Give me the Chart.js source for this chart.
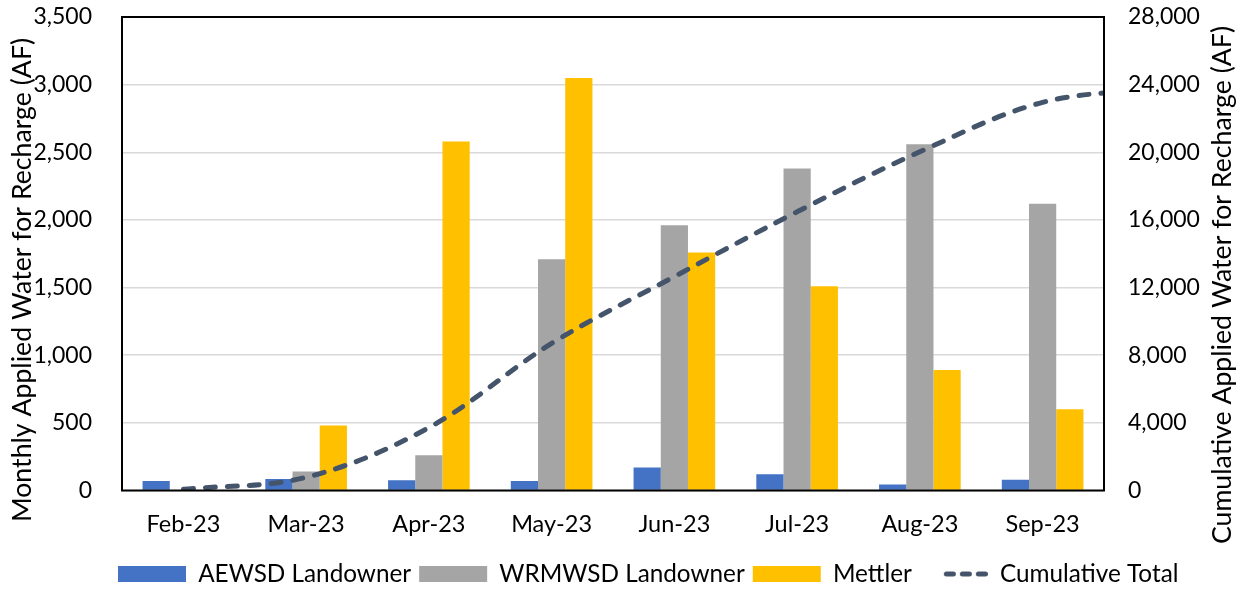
<!DOCTYPE html>
<html>
<head>
<meta charset="utf-8">
<script src="https://cdn.jsdelivr.net/npm/chart.js@4.4.1/dist/chart.umd.min.js"></script>
<style>
  html, body { margin: 0; padding: 0; background: #ffffff; }
  #wrap { width: 1242px; height: 590px; position: relative; }
</style>
</head>
<body>
<div id="wrap"><canvas id="c" width="1242" height="590"></canvas></div>
<script>
// ---- data ----
const categories = ['Feb-23', 'Mar-23', 'Apr-23', 'May-23', 'Jun-23', 'Jul-23', 'Aug-23', 'Sep-23'];
const nextMonth = 'Oct-23'; // only carries the run-off end of the cumulative line
const aewsd   = [70, 85, 75, 70, 170, 120, 45, 80];
const wrmwsd  = [0, 140, 260, 1710, 1960, 2380, 2560, 2120];
const mettler = [0, 480, 2580, 3050, 1760, 1510, 890, 600];
// cumulative total per month; the last value belongs to nextMonth,
// which lies past the right edge of the axis so the line runs off the plot
const cumulative = [70, 780, 3720, 8700, 12650, 16480, 20030, 22950, 23800];
const leftTicks = [0, 500, 1000, 1500, 2000, 2500, 3000, 3500];
const rightTicks = [0, 4000, 8000, 12000, 16000, 20000, 24000, 28000];
const leftTitle = 'Monthly Applied Water for Recharge (AF)';
const rightTitle = 'Cumulative Applied Water for Recharge (AF)';

const FONT = 'Lato';
const TICK_FS = 23;
const XLAB_FS = 23.5;
const LEG_FS = 24.3;
const TITLE_FS = 26.7;
const LINE_COLOR = '#44546A';

const fmt = v => Number(v).toLocaleString('en-US');

// legend symbol for the dashed line
const lineSymbol = document.createElement('canvas');
lineSymbol.width = 68; lineSymbol.height = 16;
(function () {
  const g = lineSymbol.getContext('2d');
  g.strokeStyle = LINE_COLOR;
  g.lineWidth = 5;
  g.lineCap = 'round';
  g.setLineDash([7, 9]);
  g.beginPath();
  g.moveTo(26.5, 8);
  g.lineTo(65.5, 8);
  g.stroke();
})();

const frameAndTitles = {
  id: 'frameAndTitles',
  afterLayout(chart) {
    const lg = chart.legend;
    if (!lg || !lg.lineWidths) return;
    const pad = lg.options.labels.padding;
    const start = (lg.left + pad + lg.right - lg.lineWidths[0]) / 2;
    const shift = 118 - start;
    lg.left += shift; lg.right += shift;
  },
  afterDatasetsDraw(chart) {
    const { ctx, chartArea: a } = chart;
    ctx.save();
    ctx.strokeStyle = '#000000';
    ctx.lineWidth = 2;
    ctx.strokeRect(a.left, a.top, a.right - a.left, a.bottom - a.top);
    ctx.restore();
  },
  afterDraw(chart) {
    const { ctx } = chart;
    const drawTitle = (text, x, y) => {
      ctx.save();
      ctx.fillStyle = '#000000';
      ctx.font = TITLE_FS + 'px ' + FONT;
      ctx.textAlign = 'center';
      ctx.textBaseline = 'middle';
      ctx.translate(x, y);
      ctx.rotate(-Math.PI / 2);
      ctx.fillText(text, 0, 0);
      ctx.restore();
    };
    drawTitle(leftTitle, 22, 280);
    drawTitle(rightTitle, 1222, 285);
  }
};

new Chart(document.getElementById('c'), {
  data: {
    labels: categories.concat([nextMonth]),
    datasets: [
      { type: 'bar', label: 'AEWSD Landowner', data: aewsd, backgroundColor: '#4472C4', yAxisID: 'y', pointStyle: 'rect', order: 2 },
      { type: 'bar', label: 'WRMWSD Landowner', data: wrmwsd, backgroundColor: '#A5A5A5', yAxisID: 'y', pointStyle: 'rect', order: 2 },
      { type: 'bar', label: 'Mettler', data: mettler, backgroundColor: '#FFC000', yAxisID: 'y', pointStyle: 'rect', order: 2 },
      { type: 'line', label: 'Cumulative Total', data: cumulative, yAxisID: 'y2',
        borderColor: LINE_COLOR, backgroundColor: LINE_COLOR, borderWidth: 5,
        borderDash: [10, 12], borderCapStyle: 'round', pointRadius: 0, pointHoverRadius: 0,
        pointStyle: lineSymbol, tension: 0.35, fill: false, clip: 0, order: 1 }
    ]
  },
  options: {
    responsive: false,
    animation: false,
    devicePixelRatio: 1,
    layout: { padding: { top: 17, left: 0, right: 0, bottom: -6.15 } },
    datasets: { bar: { categoryPercentage: 0.665, barPercentage: 1.0 } },
    plugins: {
      legend: {
        position: 'bottom',
        labels: {
          usePointStyle: true,
          pointStyleWidth: 68,
          boxHeight: 16,
          padding: 8,
          color: '#000000',
          font: { family: FONT, size: LEG_FS },
          sort: (a, b) => a.datasetIndex - b.datasetIndex
        }
      },
      tooltip: { enabled: false }
    },
    scales: {
      x: {
        type: 'category',
        offset: true,
        afterDataLimits: s => { s.min = 0; s.max = categories.length - 1; },
        grid: { display: false, drawTicks: false },
        border: { display: false },
        ticks: { color: '#000000', padding: 20, font: { family: FONT, size: XLAB_FS }, maxRotation: 0, autoSkip: false },
        afterFit: s => { s.height = 63.35; }
      },
      y: {
        position: 'left',
        min: 0, max: 3500,
        afterBuildTicks: s => { s.ticks = leftTicks.map(v => ({ value: v })); },
        grid: { color: '#D9D9D9', lineWidth: 1.5, drawTicks: true, tickLength: 30, tickColor: 'rgba(0,0,0,0)' },
        border: { display: false },
        ticks: { color: '#000000', padding: 0, font: { family: FONT, size: TICK_FS }, callback: v => fmt(v) },
        afterFit: s => { s.width = 122; }
      },
      y2: {
        position: 'right',
        min: 0, max: 28000,
        afterBuildTicks: s => { s.ticks = rightTicks.map(v => ({ value: v })); },
        grid: { display: true, drawOnChartArea: false, color: 'rgba(0,0,0,0)', drawTicks: true, tickLength: 24, tickColor: 'rgba(0,0,0,0)' },
        border: { display: false },
        ticks: { color: '#000000', padding: 0, font: { family: FONT, size: TICK_FS }, callback: v => fmt(v) },
        afterFit: s => { s.width = 138; }
      }
    }
  },
  plugins: [frameAndTitles]
});
</script>
</body>
</html>
